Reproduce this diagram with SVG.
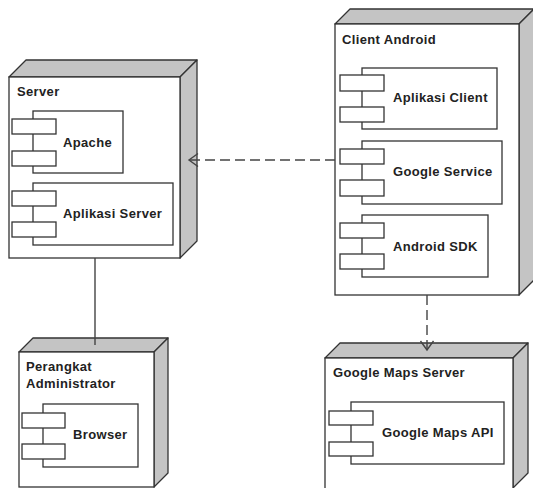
<svg xmlns="http://www.w3.org/2000/svg" width="533" height="488" viewBox="0 0 533 488">
<style>
.front{fill:#fff;stroke:#333;stroke-width:1.3}
.shade{fill:#c4c4c4;stroke:#333;stroke-width:1.3;stroke-linejoin:round}
.comp{fill:#fff;stroke:#333;stroke-width:1.3}
.t{font-family:"Liberation Sans",Arial,sans-serif;font-weight:bold;font-size:13px;letter-spacing:0.35px;fill:#222}
.dash{fill:none;stroke:#444;stroke-width:1.4;stroke-dasharray:10,5}
.solid{fill:none;stroke:#444;stroke-width:1.4}
</style>
<defs>
<marker id="open" markerUnits="userSpaceOnUse" markerWidth="14" markerHeight="16" refX="10" refY="7" orient="auto">
<path d="M1,0.5 L10,7 L1,13.5" fill="none" stroke="#444" stroke-width="1.4"/>
</marker>
</defs>

<g id="server">
<polygon class="shade" points="9,77 26,60 197,60 180,77"/>
<polygon class="shade" points="180,77 197,60 197,241 180,258"/>
<rect class="front" x="9" y="77" width="171" height="181"/>
<text class="t" x="17" y="96">Server</text>
<g id="apache">
<rect class="comp" x="33" y="111" width="90" height="62"/>
<rect class="comp" x="12" y="119" width="44" height="15"/>
<rect class="comp" x="12" y="151" width="44" height="15"/>
<text class="t" x="63" y="147">Apache</text>
</g>
<g id="aplikasi-server">
<rect class="comp" x="33" y="183" width="140" height="62"/>
<rect class="comp" x="12" y="191" width="44" height="15"/>
<rect class="comp" x="12" y="222" width="44" height="15"/>
<text class="t" x="63" y="218">Aplikasi Server</text>
</g>
</g>

<g id="client-android">
<polygon class="shade" points="335,24 350,9 534,9 519,24"/>
<polygon class="shade" points="519,24 534,9 534,280 519,295"/>
<rect class="front" x="335" y="24" width="184" height="271"/>
<text class="t" x="342" y="44">Client Android</text>
<g id="aplikasi-client">
<rect class="comp" x="362" y="68" width="135" height="61"/>
<rect class="comp" x="340" y="75" width="44" height="16"/>
<rect class="comp" x="340" y="107" width="44" height="15"/>
<text class="t" x="393" y="102">Aplikasi Client</text>
</g>
<g id="google-service">
<rect class="comp" x="362" y="141" width="140" height="63"/>
<rect class="comp" x="340" y="149" width="44" height="15"/>
<rect class="comp" x="340" y="180" width="44" height="16"/>
<text class="t" x="393" y="176">Google Service</text>
</g>
<g id="android-sdk">
<rect class="comp" x="362" y="215" width="126" height="62"/>
<rect class="comp" x="340" y="223" width="44" height="15"/>
<rect class="comp" x="340" y="254" width="44" height="15"/>
<text class="t" x="393" y="251">Android SDK</text>
</g>
</g>

<g id="perangkat-administrator">
<polygon class="shade" points="19,352 33,338 168,338 154,352"/>
<polygon class="shade" points="154,352 168,338 168,473 154,487"/>
<rect class="front" x="19" y="352" width="135" height="135"/>
<text class="t" x="26" y="371">Perangkat</text>
<text class="t" x="26" y="388">Administrator</text>
<g id="browser">
<rect class="comp" x="43" y="404" width="95" height="63"/>
<rect class="comp" x="22" y="413" width="43" height="15"/>
<rect class="comp" x="22" y="444" width="43" height="15"/>
<text class="t" x="73" y="439">Browser</text>
</g>
</g>

<g id="google-maps-server">
<polygon class="shade" points="325,358 340,343 528,343 513,358"/>
<polygon class="shade" points="513,358 528,343 528,473 513,488"/>
<rect class="front" x="325" y="358" width="188" height="132"/>
<text class="t" x="333" y="377">Google Maps Server</text>
<g id="google-maps-api">
<rect class="comp" x="351" y="402" width="153" height="62"/>
<rect class="comp" x="329" y="411" width="44" height="14"/>
<rect class="comp" x="329" y="442" width="44" height="14"/>
<text class="t" x="382" y="437">Google Maps API</text>
</g>
</g>

<g id="connectors">
<line class="solid" x1="95" y1="258" x2="95" y2="345"/>
<line class="dash" x1="335" y1="160" x2="189" y2="160" marker-end="url(#open)"/>
<line class="dash" x1="427" y1="295" x2="427" y2="350" marker-end="url(#open)"/>
</g>
</svg>
